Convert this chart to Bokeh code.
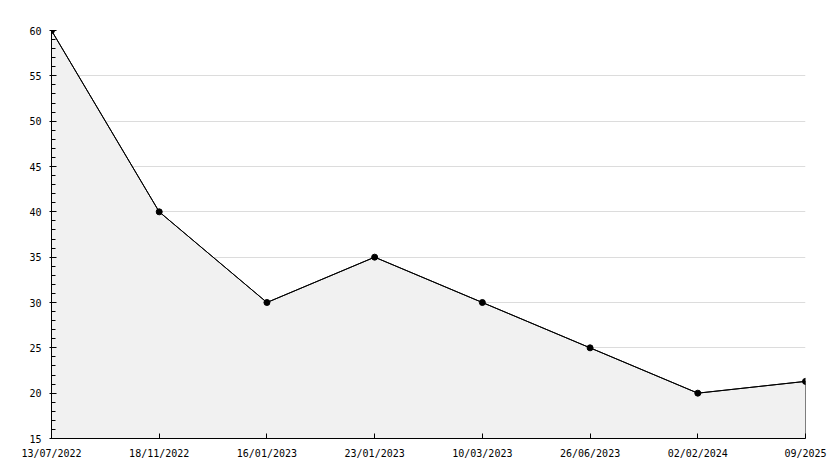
from bokeh.plotting import figure
from bokeh.models import Range1d, FixedTicker, SingleIntervalTicker
from bokeh.embed import file_html
from bokeh.resources import INLINE

dates = ["13/07/2022", "18/11/2022", "16/01/2023", "23/01/2023",
         "10/03/2023", "26/06/2023", "02/02/2024", "09/2025"]
values = [60, 40, 30, 35, 30, 25, 20, 21.3]
y_min, y_max = 15, 60
y_step = 5

idx = list(range(len(dates)))

p = figure(width=834, height=468, output_backend="svg", toolbar_location=None,
           x_range=Range1d(0, len(dates) - 1), y_range=Range1d(y_min, y_max),
           min_border_left=51, min_border_top=30, min_border_right=29, min_border_bottom=30)
p.outline_line_color = None
p.background_fill_color = "white"
p.border_fill_color = "white"

# area patch (polygon closed down to the baseline)
px = idx + [idx[-1], idx[0]]
py = values + [y_min, y_min]
p.patch(px, py, fill_color="#f1f1f1", line_color="black", line_width=1)
p.line(idx, values, line_color="black", line_width=1)
p.scatter(idx, values, marker="circle", size=6, fill_color="black", line_color="black")

font = "DejaVu Sans Mono"

p.xaxis.ticker = FixedTicker(ticks=idx)
p.xaxis.major_label_overrides = {i: d for i, d in enumerate(dates)}
p.xaxis.major_tick_in = 5
p.xaxis.major_tick_out = 0
p.xaxis.minor_tick_line_color = None
p.xaxis.major_label_standoff = 9
p.xgrid.grid_line_color = None

p.yaxis.ticker = SingleIntervalTicker(interval=y_step, num_minor_ticks=5)
p.yaxis.major_tick_in = 5
p.yaxis.major_tick_out = 2
p.yaxis.minor_tick_in = 4
p.yaxis.minor_tick_out = 0
p.yaxis.major_label_standoff = 8
p.ygrid.grid_line_color = "#dcdcdc"

for ax in (p.xaxis, p.yaxis):
    ax.axis_line_color = "black"
    ax.major_tick_line_color = "black"
    ax.major_label_text_font = font
    ax.major_label_text_font_size = "10px"
    ax.major_label_text_font_style = "normal"
    ax.major_label_text_color = "black"
p.yaxis.minor_tick_line_color = "black"

open("out.html", "w").write(file_html(p, INLINE))
